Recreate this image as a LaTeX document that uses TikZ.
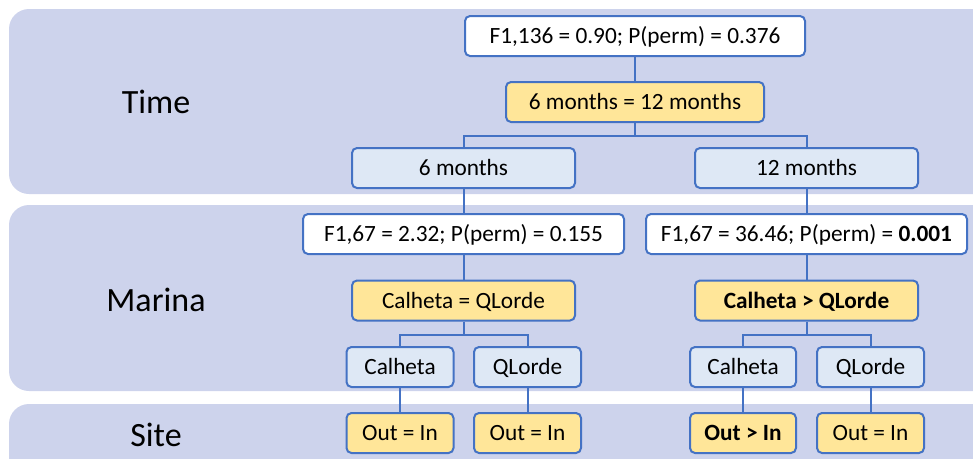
\documentclass[tikz,border=0pt]{standalone}
\usepackage{fontspec}
\setmainfont{Carlito}
\definecolor{band}{HTML}{CDD3EC}
\definecolor{edge}{HTML}{4472C4}
\definecolor{lblue}{HTML}{DEE8F5}
\definecolor{yell}{HTML}{FFE699}
\begin{document}
\begin{tikzpicture}[x=1pt,y=-1pt,
  box/.style={draw=edge, line width=2pt, rounded corners=5pt, inner sep=0pt,
    minimum height=40pt, text height=15pt, text depth=0pt,
    font=\fontsize{23.3}{27}\selectfont, text=black},
  wbox/.style={box, fill=white},
  ybox/.style={box, fill=yell},
  bbox/.style={box, fill=lblue},
  lab/.style={font=\fontsize{34}{40}\selectfont, text=black},
  conn/.style={draw=edge, line width=2pt}]
\useasboundingbox (0,0) rectangle (973,458);
\begin{scope}
\clip (0,0) rectangle (973,458);
\fill[band, rounded corners=20pt] (9,9) rectangle (1000,194);
\fill[band, rounded corners=20pt] (9,205) rectangle (1000,391);
\fill[band, rounded corners=20pt] (9,404) rectangle (1000,490);
\end{scope}
\node[lab] (ltime) at (156,102) {Time};
\node[lab] (lmarina) at (156,300) {Marina};
\node[lab] (lsite) at (156,435) {Site};
% Time level
\node[wbox, minimum width=340pt] (top) at (635,36) {F1,136 = 0.90; P(perm) = 0.376};
\node[ybox, minimum width=258pt] (tres) at (635,102) {6 months = 12 months};
\node[bbox, minimum width=223pt] (six) at (463.5,168) {6 months};
\node[bbox, minimum width=223pt] (twelve) at (806.5,168) {12 months};
% Marina level
\node[wbox, minimum width=321pt] (fl) at (463.5,234) {F1,67 = 2.32; P(perm) = 0.155};
\node[wbox, minimum width=321pt] (fr) at (806.5,234) {F1,67 = 36.46; P(perm) = \textbf{0.001}};
\node[ybox, minimum width=223pt] (ml) at (463.5,300.5) {Calheta = QLorde};
\node[ybox, minimum width=223pt] (mr) at (806.5,300.5) {\textbf{Calheta > QLorde}};
\node[bbox, minimum width=107pt] (cal1) at (400,367) {Calheta};
\node[bbox, minimum width=107pt] (ql1) at (527.5,367) {QLorde};
\node[bbox, minimum width=106pt] (cal2) at (743,367) {Calheta};
\node[bbox, minimum width=107pt] (ql2) at (870.5,367) {QLorde};
% Site level
\node[ybox, minimum width=107pt] (s1) at (400,433) {Out = In};
\node[ybox, minimum width=107pt] (s2) at (527.5,433) {Out = In};
\node[ybox, minimum width=106pt] (s3) at (743,433) {\textbf{Out > In}};
\node[ybox, minimum width=107pt] (s4) at (870.5,433) {Out = In};
% connectors
\draw[conn] (top.south) -- (tres.north);
\draw[conn] (tres.south) -- ++(0,13) -| (six.north);
\draw[conn] (tres.south) -- ++(0,13) -| (twelve.north);
\draw[conn] (six.south) -- (fl.north);
\draw[conn] (twelve.south) -- (fr.north);
\draw[conn] (fl.south) -- (ml.north);
\draw[conn] (fr.south) -- (mr.north);
\draw[conn] (ml.south) -- ++(0,13) -| (cal1.north);
\draw[conn] (ml.south) -- ++(0,13) -| (ql1.north);
\draw[conn] (mr.south) -- ++(0,13) -| (cal2.north);
\draw[conn] (mr.south) -- ++(0,13) -| (ql2.north);
\draw[conn] (cal1.south) -- (s1.north);
\draw[conn] (ql1.south) -- (s2.north);
\draw[conn] (cal2.south) -- (s3.north);
\draw[conn] (ql2.south) -- (s4.north);
\end{tikzpicture}
\end{document}
